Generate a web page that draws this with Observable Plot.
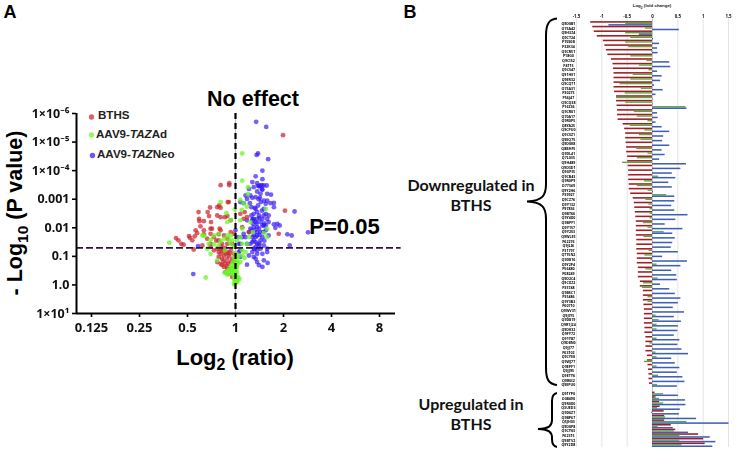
<!DOCTYPE html>
<html><head><meta charset="utf-8">
<script src="https://cdn.jsdelivr.net/npm/d3@7"></script>
<script src="https://cdn.jsdelivr.net/npm/@observablehq/plot@0.6"></script>
<style>
html,body{margin:0;padding:0;background:#fff;}
#page{position:relative;width:736px;height:452px;overflow:hidden;font-family:"Liberation Sans",Arial,sans-serif;color:#000;}
#page>div{position:absolute;white-space:nowrap;}
.panel{position:absolute;}
.panel svg{overflow:visible;background:transparent;}
#a{filter:blur(.3px);}
#b{filter:blur(.45px);}
sub{font-size:.72em;line-height:0;}
.hd{font-weight:700;transform:translate(-50%,-50%);line-height:1;}
.leg{font-weight:700;font-size:11.6px;color:#222;transform:translateY(-50%);line-height:1;}
.cal{font-family:Lato,"Open Sans",sans-serif;font-weight:700;font-size:16px;transform:translate(-50%,-50%);line-height:1;color:#111;}
</style></head><body>
<div id="page">
<div id="a" class="panel" style="left:0;top:0"></div>
<div id="b" class="panel" style="left:550px;top:0"></div>
<div class="hd" style="left:10px;top:12px;font-size:18px;">A</div>
<div class="hd" style="left:410px;top:12px;font-size:18px;">B</div>
<div class="hd" style="left:253px;top:100px;font-size:21.5px;">No effect</div>
<div class="hd" style="left:344.500px;top:227px;font-size:22px;">P=0.05</div>
<div class="hd" style="left:235px;top:358px;font-size:22px;">Log<sub>2</sub> (ratio)</div>
<div class="hd" style="left:16px;top:213px;font-size:21.5px;transform:translate(-50%,-50%) rotate(-90deg);">- Log<sub>10</sub> (P value)</div>
<div class="leg" style="left:98px;top:115px;">BTHS</div>
<div class="leg" style="left:96px;top:134px;">AAV9-<i>TAZ</i>Ad</div>
<div class="leg" style="left:97px;top:154px;">AAV9-<i>TAZ</i>Neo</div>
<div class="hd" style="left:652px;top:5.5px;font-size:4.4px;color:#222;">Log<sub>2</sub> (fold change)</div>
<div class="cal" style="left:471px;top:185px;">Downregulated in</div>
<div class="cal" style="left:471px;top:205px;">BTHS</div>
<div class="cal" style="left:471px;top:404px;">Upregulated in</div>
<div class="cal" style="left:471px;top:424px;">BTHS</div>
<svg style="position:absolute;left:0;top:0" width="736" height="452" fill="none" stroke="#000" stroke-width="2">
<path d="M557 18.5C549 19 546 24 546 36V184C546 195 543 201 527 201.5C543 202 546 208 546 219V368C546 380 549 384 557 385"/>
<path d="M557 393C553.500 393.500 552 396 552 401V420C552 426 549 428.500 538 429C549 429.500 552 432 552 438V439C552 444 553.500 446.500 557 447"/>
</svg>
</div>
<script>
// Panel A: log2(ratio) and -log10(P)
const bthsX=[.99,1.03,.90,-.31,-.13,-.13,-.34,-.38,-.53,-.14,-.16,-.31,-.77,-.58,-.76,-.75,-.55,-.66,-.51,-.31,-.22,-.17,-.38,-.10,-.73,-.52,-.49,-.66,-.83,-.80,-.97,-.95,-.85,-.90,-1.24,-1.19,-1.13,-1.08,-.66,-.52,-.33,-.31,-.10,-.03,-.35,-.24,-.17,-.45,-.59,-.52,-.35,-.28,-.17,-.07,-.69,-.87,-.52,-.38,-.31,-.24,-.17,-.10,-.35,-.24,-.14,-.03,-.35,-.28,-.17,-.07,-.38,-.31,-.21,-.10,-.24,-.17,-.10,-.21,-.14,-.07,-.31,-.03,-.45,.10,.17,.24,.28,.14,.19,-.28,-.20,-.25,-.15,-.30,-.22,-.12,-.18,-.28,-.40];
const bthsY=[5.24,2.60,1.79,3.49,3.56,3.49,2.78,2.72,2.71,2.90,2.90,2.70,2.55,2.55,2.31,2.23,2.41,2.23,2.20,2.37,2.37,2.41,2.43,2.26,2.05,1.97,1.97,1.91,1.91,1.81,1.71,1.65,1.70,1.56,1.64,1.56,1.44,1.41,1.77,1.79,1.97,1.91,1.85,1.79,1.77,1.73,1.62,1.67,1.62,1.44,1.56,1.44,1.44,1.44,1.38,1.24,1.33,1.27,1.27,1.21,1.15,1.21,1.15,1.03,1.03,1.09,.98,.92,.92,.92,.80,.74,.77,.80,.63,.57,.57,.45,.40,.28,1.09,.80,1.21,2.49,2.31,2.37,1.85,2.02,2.55,1.20,1.10,.85,.75,1.35,1.30,1.10,.65,.70,1.55];
const adX=[.14,.14,.26,.26,.10,-.31,.17,-.01,.13,.24,.63,-.19,-.10,-.17,.10,.31,.36,.14,-.45,-.65,-.69,-.52,-.35,-.17,-.24,-.10,-1.38,-.56,-.31,-.14,-.45,-.35,-.07,.10,.14,.24,.66,.66,-.52,-.59,-.38,-.22,-.10,.14,.21,.14,.19,.10,-.62,-.17,-.07,-.03,.03,-.10,-.07,-.23,.03,.05,0,.03,-.01,.08,-.03,-.03,.01,-.03,.02,.05,-.06,0,-.17,-.10,-.03,.03,.28,.59,-.14,-.05,.02,.03,.04,-.02,.01,-.20,-.16,-.12,-.08,-.05,-.03,-.01,.02,.04,.06,0,-.02,.03,.05,-.03];
const adY=[4.60,3.65,3.42,3.19,2.98,2.90,2.86,2.64,2.63,2.74,2.66,2.51,2.28,2.20,2.26,2.20,1.85,1.97,1.73,1.71,1.73,1.58,1.79,1.73,1.62,1.73,1.48,1.44,1.53,1.56,1.42,1.38,1.56,1.67,1.44,1.44,1.97,1.67,1.09,1.27,.86,1.21,1.44,1.21,1.15,1.03,.95,.80,.26,.45,.57,.69,.80,.51,.45,.43,.45,.28,.16,.10,.05,.20,.22,.02,.40,.34,.63,.98,.63,.51,.36,.40,1.33,1.56,1.67,1.81,.47,.50,.70,.90,1.05,.12,.08,.42,.50,.60,.70,.80,.95,1.10,.20,.15,.25,.30,.45,.60,.75,.55];
const neoX=[.43,.64,.47,.44,.68,.56,.42,.56,.35,.45,.59,.49,.65,.56,.38,.28,.21,.24,.31,.45,.52,.66,.74,.35,.42,.51,.59,.66,.80,.73,.30,.17,.10,.33,.47,.63,.80,1.23,.59,.45,.38,.33,.49,.63,.69,.45,.56,.66,.24,.35,.42,.52,.69,.87,.80,.92,.83,.45,.31,.59,.49,.40,.52,.63,.28,.17,.21,.35,.45,.56,.69,.52,.35,.38,.45,.24,.10,.14,1.08,1.17,1.51,1.13,-.78,.38,.45,.52,.66,.59,.35,.45,.38,.56,.66,.28,.42,.45,.59,.67,.49,.56,.24,-.88,.10,.10,.07,0,.05,.07,.38,.56,.42,.49,.42,.31,.63,.38,.59,.42,.52,.55,.40,.36,.44,.50,.55,.60,.33,.38,.45,.50,.58,.60,.42,.50,.40,.47,.55,.48,.53,.36];
const neoY=[5.71,5.53,4.60,4.55,4.40,4.00,3.80,3.70,3.60,3.56,3.48,3.45,3.48,3.33,3.42,3.36,3.13,3.01,3.13,3.27,3.19,3.19,3.16,3.05,3.07,3.05,2.95,2.95,2.87,2.86,2.86,2.86,2.90,2.72,2.78,2.84,2.72,2.57,2.66,2.55,2.49,2.43,2.43,2.49,2.43,2.31,2.31,2.31,2.26,2.26,2.20,2.20,2.20,2.14,2.12,2.08,2.00,2.02,1.97,2.08,1.97,1.91,1.85,1.91,1.85,1.79,1.67,1.67,1.73,1.67,1.73,1.56,1.50,1.56,1.44,1.44,1.44,1.67,1.77,1.73,1.84,1.38,1.36,1.27,1.21,1.27,1.27,1.38,1.15,1.09,.98,1.09,1.15,1.03,.92,.80,.86,.77,.69,.63,.71,.38,.98,1.21,1.15,1.91,1.67,1.44,2.02,2.08,1.67,1.38,1.33,1.44,2.08,2.31,2.43,2.66,3.48,3.48,2.70,2.30,2.15,2.35,2.60,2.15,1.90,1.75,1.85,1.75,1.85,1.55,1.50,1.45,1.25,3.47,3.35,3.00,2.90,2.15];
const xTickVals=[-3,-2,-1,0,1,2,3];
const xTickText=["0.125","0.25","0.5","1","2","4","8"];
const yTickVals=[6,5,4,3,2,1,0,-1];
const yTickText=["1×10⁻⁶","1×10⁻⁵","1×10⁻⁴","0.001","0.01","0.1","1.0","1×10¹"];
const cutoff=1.3;
const zip=(xs,ys)=>xs.map((x,i)=>({x,y:ys[i]}));
const colBTHS="#c9262c",colAd="#69f52a",colNeo="#3216f5";

const plotA=Plot.plot({
  width:400,height:370,marginLeft:76,marginRight:5,marginTop:113,marginBottom:57,
  x:{domain:[-3.3125,3.333],axis:null},y:{domain:[-1,6],axis:null},
  style:{background:"transparent"},
  marks:[
    Plot.ruleX([0],{stroke:"#bbb",strokeWidth:1}),
    Plot.dot(zip(neoX,neoY),{x:"x",y:"y",r:2.4,fill:colNeo,fillOpacity:.68,stroke:"none"}),
    Plot.dot(zip(bthsX,bthsY),{x:"x",y:"y",r:2.4,fill:colBTHS,fillOpacity:.72,stroke:"none"}),
    Plot.dot(zip(adX,adY),{x:"x",y:"y",r:2.4,fill:colAd,fillOpacity:.75,stroke:"none"}),
    Plot.ruleX([0],{stroke:"#000",strokeWidth:2.2,strokeDasharray:"6,4"}),
    Plot.ruleY([cutoff],{x1:-3.3125,x2:3.45,stroke:"#2d1140",strokeWidth:1.7,strokeDasharray:"7,3"}),
    Plot.ruleX([-3.3125],{stroke:"#000",strokeWidth:2}),
    Plot.ruleY([-1],{stroke:"#000",strokeWidth:2}),
    Plot.axisX(xTickVals,{anchor:"bottom",tickSize:4,tickPadding:5,strokeWidth:1.6,stroke:"#000",tickFormat:d=>xTickText[xTickVals.indexOf(d)],fontSize:13,fontWeight:700,label:null,fill:"#111"}),
    Plot.axisY(yTickVals,{anchor:"left",tickSize:4,tickPadding:3,strokeWidth:1.6,stroke:"#000",tickFormat:d=>yTickText[yTickVals.indexOf(d)],fontSize:12.5,fontWeight:700,label:null,fill:"#111"}),
    Plot.dot([{x:-3.0,y:5.88,c:colBTHS},{x:-3.0,y:5.25,c:colAd},{x:-2.98,y:4.53,c:colNeo}],{x:"x",y:"y",r:2.7,fill:"c",fillOpacity:.72,stroke:"none"})
  ]
});
document.getElementById("a").append(plotA);

// Panel B: Log2 fold change per protein, top to bottom
const genesDown=["Q9D0B1","O75A42","Q9H3Z4","Q9CT24","P15S0B","P32K34","Q9CR51","P18G0","Q9CI52","P4T15","Q9CS47","Q91HE1","Q9ER32","Q9CQ71","O75A31","P30275","P56J47","Q9CQ38","P16Z36","Q9CR01","Q70A17","Q9R0P5","Q8YA25","Q9CPU0","Q9CSZ1","Q9EQ75","Q9D0K8","Q8BHF5","Q9DL41","Q7L035","Q9H489","Q9D3D1","Q9UPI5","Q9CB43","Q9R0P9","O77349","Q9Y2H6","P39927","Q9CZ76","Q9Y132","P97836","Q9BT66","Q9Y4X0","Q9BPF1","Q9Y157","Q9Y2S3","Q9WLE5","P62276","Q9JLI6","P31797","Q7T5N2","Q9D816","Q9Y2P4","P56480","P08249","Q9D2C4","Q9CXZ2","P35748","Q9BSC1","P35486","Q9Y3B3","P60710","Q9WV31","Q9JIY5","Q9D819","Q9R1J24","Q9DK32","Q9FY72","Q91Y87","Q9D8N0","Q9JJ77","P63102","Q9CYE0","Q9WJ77","Q9EPF1","Q9JJ95","Q9ETY6","Q9R0I2","Q9EPU0"];
const genesUp=["Q91YP0","O08490","Q9R0X0","Q3UED3","Q9D6Z7","Q9BP67","Q5JH03","Q9D0P8","Q9CY03","P62315","Q9BTV2","Q9Y2D8"];
const bthsDown=[-1.22,-1.18,-1.15,-1.09,-.97,-.94,-.91,-.88,-.81,-.78,-.77,-.76,-.76,-.76,-.76,-.75,-.71,-.71,-.70,-.69,-.69,-.68,-.58,-.55,-.53,-.53,-.52,-.51,-.51,-.49,-.49,-.48,-.47,-.47,-.47,-.46,-.46,-.43,-.38,-.36,-.35,-.34,-.33,-.32,-.32,-.32,-.32,-.31,-.31,-.31,-.30,-.30,-.30,-.28,-.28,-.28,-.24,-.24,-.18,-.18,-.18,-.17,-.16,-.16,-.16,-.16,-.15,-.15,-.13,-.13,-.13,-.13,-.10,-.10,-.09,-.08,-.07,-.07,-.06];
const adDown=[-.53,-.14,-.53,-.43,-.53,-.47,-.02,-.43,-.11,-.26,-.07,-.38,-.43,-.64,-.22,-.54,-.71,-.53,.66,-.36,-.30,-.09,-.44,-.15,-.26,-.23,0,-.31,-.09,-.30,-.59,0,0,.12,-.16,-.30,-.09,.28,-.13,-.07,-.05,-.05,-.05,-.18,-.09,.23,-.17,0,0,-.07,-.15,-.03,.09,-.13,0,.11,-.18,-.20,0,-.09,-.09,0,0,.07,.13,.09,.09,0,.09,-.05,0,.07,.09,-.16,.09,0,.12,0,.10];
const neoDown=[-.86,.53,-.26,.02,.14,.10,.11,0,.34,.36,.10,.19,.16,.04,.21,.07,.01,.01,.68,.10,.11,.07,.19,.34,.22,.20,.34,.19,.25,.14,.67,.56,.39,.46,.32,.39,.02,.44,.44,.38,.44,.70,.46,.25,.60,.40,.45,.40,.37,.51,.20,.69,.56,.38,.48,.49,.16,.34,.45,.56,.51,.41,.63,.43,.57,.51,.50,.43,.54,.50,.58,.71,.38,.45,.54,.49,.60,.64,.49];
const bthsUp=[.05,.07,.14,.15,.23,.24,.24,.37,.46,.91,1.01,1.04];
const adUp=[.22,.14,.22,.10,-.02,.26,.68,.11,.43,.54,.54,.58];
const neoUp=[.51,.65,.66,.55,.53,.87,1.51,.41,.71,1.14,1.25,1.19];
const fcTicks=[-1.5,-1,-.5,0,.5,1,1.5];
const fcTickText=["-1.5","-1","-0.5","0","0.5","1","1.5"];
const gapRows=1;

const rows=[];
genesDown.forEach((g,i)=>rows.push({g,row:i,r:bthsDown[i],a:adDown[i],n:neoDown[i]}));
genesUp.forEach((g,i)=>rows.push({g,row:genesDown.length+gapRows+i,r:bthsUp[i],a:adUp[i],n:neoUp[i]}));
const bar=(key,lo,hi,col)=>Plot.rectX(rows,{x1:0,x2:key,y1:d=>d.row+lo,y2:d=>d.row+hi,fill:col,inset:0});
const plotB=Plot.plot({
  width:186,height:452,marginLeft:26,marginRight:8,marginTop:21,marginBottom:5,
  x:{domain:[-1.5,1.5],axis:null},y:{domain:[-.5,91.5],reverse:true,axis:null},
  style:{background:"transparent"},
  marks:[
    Plot.ruleX(fcTicks.filter(d=>d!==0),{y1:-1,y2:91.5,stroke:"#e4e4e4",strokeWidth:1}),
    Plot.ruleX([0],{y1:-1,y2:91.5,stroke:"#c8c8c8",strokeWidth:1}),
    bar("r",-.47,-.13,"#a01f24"),
    bar("a",-.13,.17,"#5aa844"),
    bar("n",.17,.5,"#3f5fb6"),
    Plot.text(fcTicks,{x:d=>d,y:()=>-1.65,text:d=>fcTickText[fcTicks.indexOf(d)],fontSize:4.4,fontWeight:700,fill:"#111"}),
    Plot.text(rows,{x:()=>-1.66,y:"row",text:"g",fontSize:3.6,fontWeight:700,fill:"#000",textAnchor:"middle"})
  ]
});
document.getElementById("b").append(plotB);
</script>
</body></html>
